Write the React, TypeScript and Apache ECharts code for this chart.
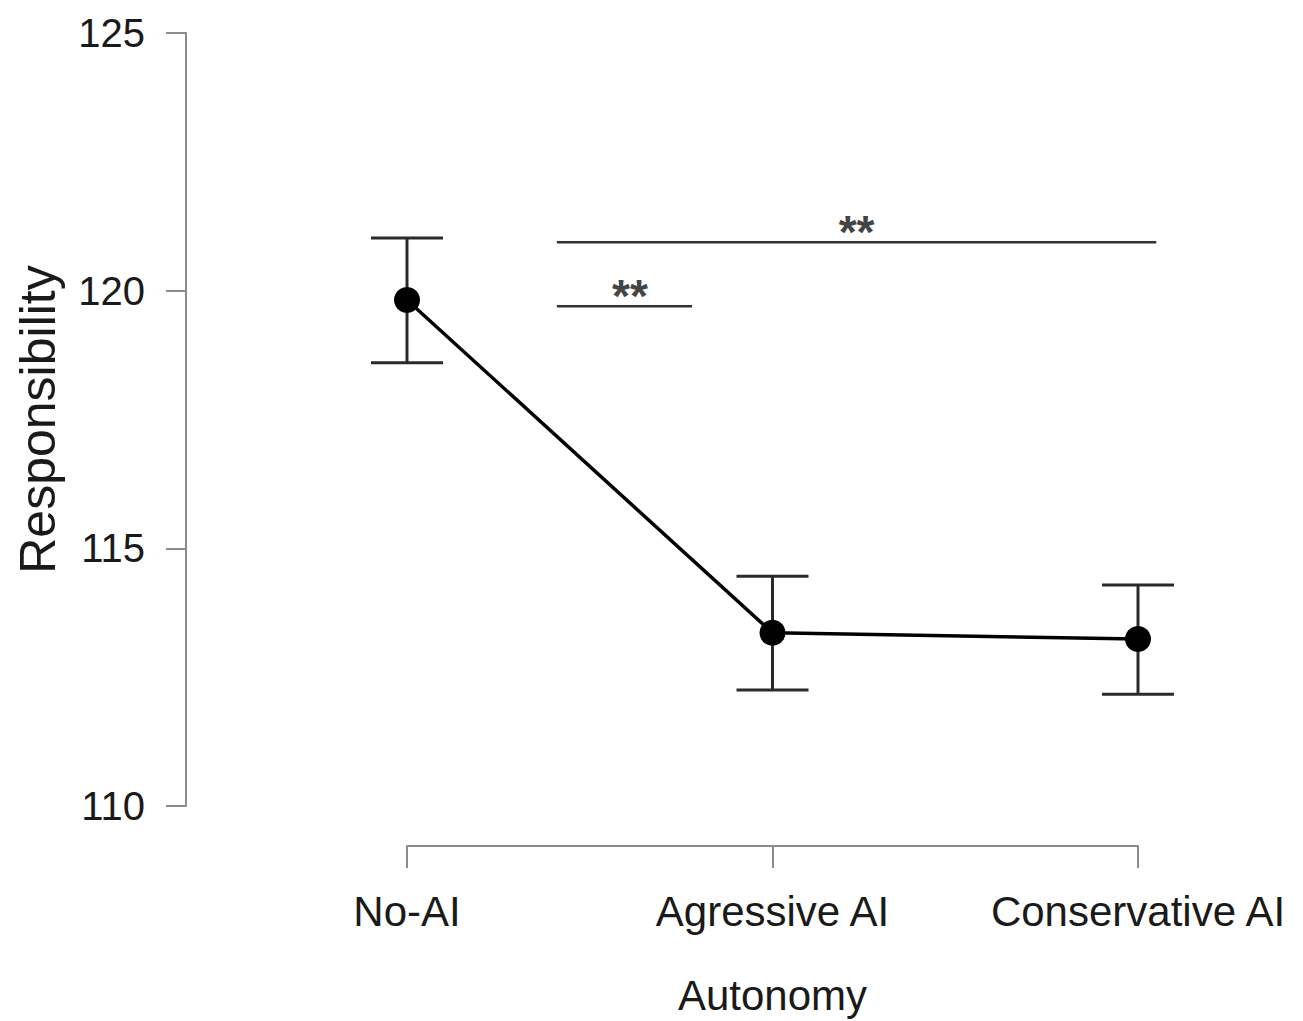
import React, { useEffect, useRef } from "react";
import * as echarts from "echarts";

// ---- data ----
const categories = ["No-AI", "Agressive AI", "Conservative AI"];
const means = [119.82, 113.36, 113.24];
const upper = [121.02, 114.46, 114.29];
const lower = [118.6, 112.25, 112.17];
const yTicks = { min: 110, max: 125, step: 5 };
// significance brackets: start x, end x (category units), y value, label
const sigStart = [0.41, 0.41];
const sigEnd = [2.05, 0.78];
const sigY = [120.94, 119.7];
const sigLabelX = [1.23, 0.61];
const sigLabel = ["**", "**"];

// ---- layout ----
const W = 1303;
const H = 1021;
const AX_LEFT = 186;
const PLOT_TOP = 33;
const PLOT_BOTTOM = 806;
const X0 = 407;
const X2 = 1138;
const X_AXIS_Y = 846;
const PX_PER_UNIT = (X2 - X0) / 2;
const PLOT_W = 1100;
const X_MIN = -(X0 - AX_LEFT) / PX_PER_UNIT;
const X_MAX = X_MIN + PLOT_W / PX_PER_UNIT;

const FONT = "'Liberation Sans', Arial, sans-serif";
const AXIS_GRAY = "#8c8c8c";
const INK = "#1a1a1a";

export default function App() {
  const ref = useRef<HTMLDivElement>(null);
  useEffect(() => {
    if (!ref.current) return;
    const chart = echarts.init(ref.current, undefined, { renderer: "svg" });

    const pointData = means.map((m, i) => [i, m]);
    const errData = means.map((_, i) => [i, lower[i], upper[i]]);
    const sigData = sigStart.map((s, i) => [s, sigEnd[i], sigY[i], sigLabelX[i], i]);

    const option: any = {
      animation: false,
      backgroundColor: "#ffffff",
      grid: [
        { left: AX_LEFT, top: PLOT_TOP, width: PLOT_W, height: PLOT_BOTTOM - PLOT_TOP },
        { left: X0, top: X_AXIS_Y - 1, width: X2 - X0, height: 1 },
      ],
      xAxis: [
        { gridIndex: 0, type: "value", min: X_MIN, max: X_MAX, show: false },
        {
          gridIndex: 1,
          type: "category",
          data: categories,
          boundaryGap: false,
          position: "bottom",
          axisLine: { show: true, onZero: false, lineStyle: { color: AXIS_GRAY, width: 2 } },
          axisTick: { show: true, length: 22, lineStyle: { color: AXIS_GRAY, width: 2 }, interval: 0 },
          axisLabel: { interval: 0, margin: 44, fontSize: 42, color: INK, fontFamily: FONT },
          splitLine: { show: false },
          name: "Autonomy",
          nameLocation: "middle",
          nameGap: 128,
          nameTextStyle: { fontSize: 42, color: INK, fontFamily: FONT },
        },
      ],
      yAxis: [
        {
          gridIndex: 0,
          type: "value",
          min: yTicks.min,
          max: yTicks.max,
          interval: yTicks.step,
          axisLine: { show: true, onZero: false, lineStyle: { color: AXIS_GRAY, width: 2 } },
          axisTick: { show: true, length: 20, lineStyle: { color: AXIS_GRAY, width: 2 } },
          axisLabel: { margin: 41, fontSize: 40, color: INK, fontFamily: FONT },
          splitLine: { show: false },
          name: "Responsibility",
          nameLocation: "middle",
          nameRotate: 90,
          nameGap: 123,
          nameTextStyle: { fontSize: 50, color: INK, fontFamily: FONT },
        },
        { gridIndex: 1, type: "value", show: false },
      ],
      series: [
        {
          type: "custom",
          xAxisIndex: 0,
          yAxisIndex: 0,
          z: 1,
          data: errData,
          renderItem: (params: any, api: any) => {
            const x = api.value(0);
            const top = api.coord([x, api.value(2)]);
            const bot = api.coord([x, api.value(1)]);
            const hw = 36;
            const st = { stroke: "#2a2a2a", lineWidth: 3 };
            return {
              type: "group",
              children: [
                { type: "line", shape: { x1: top[0], y1: top[1], x2: bot[0], y2: bot[1] }, style: st },
                { type: "line", shape: { x1: top[0] - hw, y1: top[1], x2: top[0] + hw, y2: top[1] }, style: st },
                { type: "line", shape: { x1: bot[0] - hw, y1: bot[1], x2: bot[0] + hw, y2: bot[1] }, style: st },
              ],
            };
          },
        },
        {
          type: "line",
          xAxisIndex: 0,
          yAxisIndex: 0,
          z: 3,
          data: pointData,
          symbol: "circle",
          symbolSize: 26,
          itemStyle: { color: "#000000" },
          lineStyle: { color: "#000000", width: 3.5 },
        },
        {
          type: "custom",
          xAxisIndex: 0,
          yAxisIndex: 0,
          z: 2,
          data: sigData,
          renderItem: (params: any, api: any) => {
            const a = api.coord([api.value(0), api.value(2)]);
            const b = api.coord([api.value(1), api.value(2)]);
            const t = api.coord([api.value(3), api.value(2)]);
            const idx = api.value(4);
            return {
              type: "group",
              children: [
                { type: "line", shape: { x1: a[0], y1: a[1], x2: b[0], y2: b[1] }, style: { stroke: "#333333", lineWidth: 2.5 } },
                {
                  type: "text",
                  x: t[0],
                  y: t[1] - 10,
                  style: {
                    text: sigLabel[idx],
                    fontSize: 46,
                    fontFamily: FONT,
                    fontWeight: "bold",
                    fill: "#444444",
                    align: "center",
                    verticalAlign: "middle",
                    textAlign: "center",
                    textVerticalAlign: "middle",
                  },
                },
              ],
            };
          },
        },
      ],
    };
    chart.setOption(option);
    return () => chart.dispose();
  }, []);
  return <div ref={ref} style={{ position: "absolute", left: 0, top: 0, width: W, height: H }} />;
}
